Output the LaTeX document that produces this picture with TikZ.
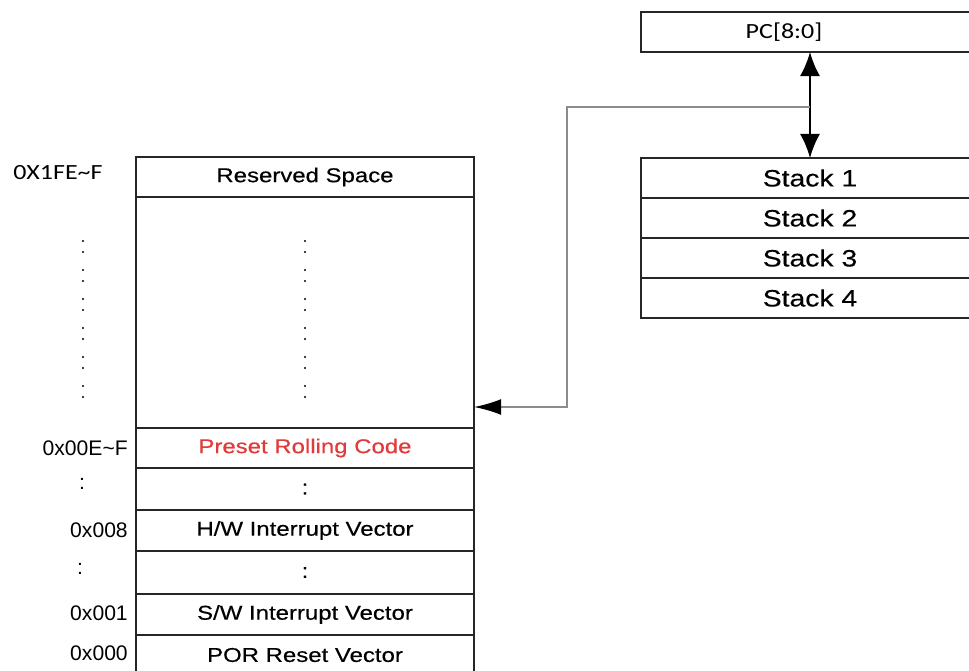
\documentclass[tikz,border=0pt]{standalone}
\usepackage{fontspec}
\usetikzlibrary{arrows.meta}
\setmainfont{Liberation Sans}
\newfontfamily\boxfont{Liberation Sans}[FakeStretch=1.2, FakeBold=0.4]
\newfontfamily\calfont{Carlito}[FakeStretch=1.2]
\definecolor{rollred}{HTML}{E03A3A}
\definecolor{wiregray}{HTML}{8C8C8C}
\def\px{0.025cm}
\tikzset{
  memrow/.style={draw=black!85, line width=1.2pt, outer sep=0pt, inner sep=0pt,
    minimum width=338*\px, font=\boxfont\fontsize{14.2pt}{16pt}\selectfont},
  stackrow/.style={memrow, minimum height=40*\px, font=\boxfont\fontsize{16.8pt}{19pt}\selectfont},
  addr/.style={anchor=east, inner sep=0pt, font=\fontsize{15pt}{17pt}\selectfont},
  wire/.style={draw=wiregray, line width=1.3pt},
}
\begin{document}
\begin{tikzpicture}[x=0.025cm, y=-0.025cm]

  \useasboundingbox (0,0) rectangle (969,671);

  % memory map
  \node[memrow, minimum height=40*\px] at(305,177)(reserved){Reserved Space};
  \node[memrow, minimum height=231*\px] at(305,312.5)(free){};
  \node[memrow, minimum height=40*\px, text=rollred] at(305,448)(preset){Preset Rolling Code};
  \node[memrow, minimum height=42*\px] at(305,489)(gapa){:};
  \node[memrow, minimum height=41*\px] at(305,530.5)(hw){H/W Interrupt Vector};
  \node[memrow, minimum height=43*\px] at(305,572.5)(gapb){:};
  \node[memrow, minimum height=41*\px] at(305,614.5)(sw){S/W Interrupt Vector};
  \node[memrow, minimum height=40*\px] at(305,655)(por){POR Reset Vector};

  % addresses
  \node[anchor=west, inner sep=0pt, font=\calfont\fontsize{15.4pt}{17pt}\selectfont] at(13,173)(atop){0X1FE\char`~F};
  \node[addr] at(128,448)(aroll){0x00E\char`~F};
  \node[inner sep=0pt, font=\fontsize{15pt}{17pt}\selectfont] at(82,484)(adota){:};
  \node[addr] at(128,530)(ahw){0x008};
  \node[inner sep=0pt, font=\fontsize{15pt}{17pt}\selectfont] at(80,569)(adotb){:};
  \node[addr] at(128,613)(asw){0x001};
  \node[addr] at(128,653)(apor){0x000};

  % dotted columns
  \foreach \y in {241,270,299,328,357,386}{
    \fill (83,\y) circle (1.1);
    \fill (83,\y+11) circle (1.1);
    \fill (305,\y) circle (1.1);
    \fill (305,\y+11) circle (1.1);
  }

  % program counter and stack
  \node[memrow, minimum height=40*\px] at(810,32)(pc){};
  \node[inner sep=0pt, font=\calfont\fontsize{15.4pt}{17pt}\selectfont] at(784,32)(pclabel){PC[8:0]};
  \node[stackrow] at(810,178)(stack1){Stack 1};
  \node[stackrow] at(810,218)(stack2){Stack 2};
  \node[stackrow] at(810,258)(stack3){Stack 3};
  \node[stackrow] at(810,298)(stack4){Stack 4};

  \draw[line width=1.4pt, {Latex[length=0.6cm, width=0.5cm]}-{Latex[length=0.6cm, width=0.5cm]}] (pc.south) -- (stack1.north);

  % return path
  \coordinate (tap) at(810,107);
  \coordinate (bend) at(567,107);
  \coordinate (drop) at(567,407);
  \draw[wire] (tap) -- (bend) -- (drop) -- ([xshift=14*\px]drop -| free.east);
  \draw[line width=1.3pt, -{Latex[length=0.68cm, width=0.4cm]}] ([xshift=16*\px]drop -| free.east) -- (drop -| free.east);

\end{tikzpicture}
\end{document}
